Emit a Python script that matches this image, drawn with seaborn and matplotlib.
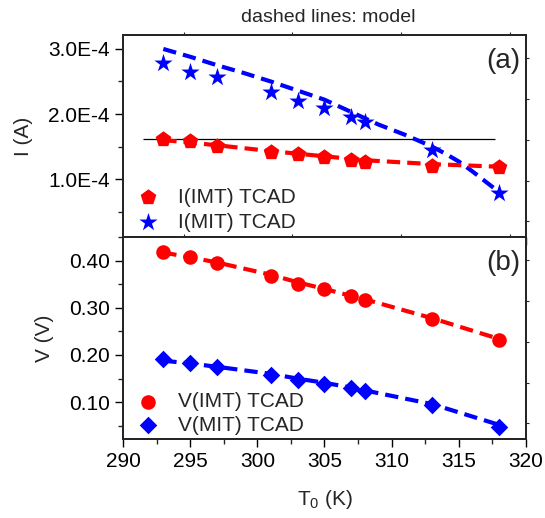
import numpy as np
import pandas as pd
import matplotlib
matplotlib.use("Agg")
import matplotlib.pyplot as plt
from matplotlib.ticker import FuncFormatter, MultipleLocator
import seaborn as sns

# ---- data -------------------------------------------------------------
T0 = [293, 295, 297, 301, 303, 305, 307, 308, 313, 318]            # K

# currents at the transitions (A), TCAD simulation
I_imt_tcad = [1.62e-4, 1.58e-4, 1.51e-4, 1.42e-4, 1.385e-4, 1.34e-4, 1.30e-4, 1.27e-4, 1.205e-4, 1.185e-4]
I_mit_tcad = [2.78e-4, 2.65e-4, 2.57e-4, 2.34e-4, 2.20e-4, 2.09e-4, 1.96e-4, 1.88e-4, 1.45e-4, 0.79e-4]

# voltages at the transitions (V), TCAD simulation
V_imt_tcad = [0.419, 0.407, 0.395, 0.368, 0.351, 0.339, 0.324, 0.316, 0.276, 0.232]
V_mit_tcad = [0.191, 0.182, 0.174, 0.158, 0.147, 0.139, 0.130, 0.124, 0.093, 0.048]

# compact-model curves
T_model_mit = [293, 295, 297, 299, 301, 303, 305, 307, 309, 311, 313, 314, 315, 316, 317, 318]
I_mit_model = [3.00e-4, 2.88e-4, 2.75e-4, 2.63e-4, 2.50e-4, 2.36e-4, 2.22e-4, 2.03e-4, 1.84e-4,
               1.68e-4, 1.50e-4, 1.39e-4, 1.27e-4, 1.12e-4, 0.96e-4, 0.80e-4]
I_imt_model = [1.60e-4, 1.56e-4, 1.52e-4, 1.43e-4, 1.39e-4, 1.35e-4, 1.31e-4, 1.29e-4, 1.23e-4, 1.19e-4]
V_imt_model = [0.417, 0.407, 0.396, 0.370, 0.354, 0.340, 0.325, 0.318, 0.278, 0.234]
V_mit_model = [0.188, 0.182, 0.175, 0.160, 0.150, 0.141, 0.131, 0.125, 0.096, 0.052]

# holding-current reference level
I_ref = 1.61e-4
I_ref_span = (291.5, 317.7)

RED = "#ff0000"
BLUE = "#0000ff"

sns.set_style("ticks")
plt.rcParams["font.family"] = ["Liberation Sans", "DejaVu Sans"]
plt.rcParams["mathtext.fontset"] = "custom"
plt.rcParams["mathtext.rm"] = "Liberation Sans"
plt.rcParams["mathtext.it"] = "Liberation Sans"

FS = 15

fig = plt.figure(figsize=(5.45, 5.18), dpi=100)
ax1 = fig.add_axes([0.2257, 0.5425, 0.7394, 0.390])
ax2 = fig.add_axes([0.2257, 0.1525, 0.7394, 0.390], sharex=ax1)

dash = dict(linewidth=3.0, dashes=(3.2, 1.7))

# ---- (a) currents -----------------------------------------------------
ax1.hlines(I_ref, *I_ref_span, color="black", linewidth=0.9, zorder=1)
sns.lineplot(x=T_model_mit, y=I_mit_model, ax=ax1, color=BLUE, zorder=2, **dash)
sns.lineplot(x=T0, y=I_imt_model, ax=ax1, color=RED, zorder=2, **dash)
sns.scatterplot(x=T0, y=I_imt_tcad, ax=ax1, color=RED, marker="p", s=140,
                linewidth=0, zorder=3, label="I(IMT) TCAD")
sns.scatterplot(x=T0, y=I_mit_tcad, ax=ax1, color=BLUE, marker="*", s=190,
                linewidth=0, zorder=3, label="I(MIT) TCAD")

ax1.set_ylim(1.1e-5, 3.215e-4)
ax1.yaxis.set_major_locator(MultipleLocator(1e-4))
ax1.yaxis.set_minor_locator(MultipleLocator(0.5e-4))


def sci_fmt(v, pos):
    if abs(v) < 1e-12:
        return "0"
    e = int(np.floor(np.log10(abs(v))))
    m = v / 10 ** e
    return f"{m:.1f}E{e}"


ax1.yaxis.set_major_formatter(FuncFormatter(sci_fmt))
ax1.set_ylabel("I (A)", fontsize=FS, labelpad=11)
ax1.tick_params(axis="x", which="both", bottom=False, labelbottom=False)
ax1.text(0.985, 0.935, "(a)", transform=ax1.transAxes, ha="right", va="top", fontsize=20)
ax1.legend(loc="lower left", bbox_to_anchor=(-0.02, -0.035), frameon=False, fontsize=FS,
           handletextpad=0.45, labelspacing=0.28, borderaxespad=0.2)

# ---- (b) voltages -----------------------------------------------------
sns.lineplot(x=T0, y=V_imt_model, ax=ax2, color=RED, zorder=2, **dash)
sns.lineplot(x=T0, y=V_mit_model, ax=ax2, color=BLUE, zorder=2, **dash)
sns.scatterplot(x=T0, y=V_imt_tcad, ax=ax2, color=RED, marker="o", s=110,
                linewidth=0, zorder=3, label="V(IMT) TCAD")
sns.scatterplot(x=T0, y=V_mit_tcad, ax=ax2, color=BLUE, marker="D", s=80,
                linewidth=0, zorder=3, label="V(MIT) TCAD")

ax2.set_ylim(0.022, 0.45)
ax2.yaxis.set_major_locator(MultipleLocator(0.1))
ax2.yaxis.set_minor_locator(MultipleLocator(0.05))
ax2.yaxis.set_major_formatter(FuncFormatter(lambda v, p: f"{v:.2f}"))
ax2.set_ylabel("V (V)", fontsize=FS, labelpad=11)
ax2.set_xlim(290, 320)
ax2.xaxis.set_major_locator(MultipleLocator(5))
ax2.xaxis.set_minor_locator(MultipleLocator(2.5))
ax2.set_xlabel("T$_0$ (K)", fontsize=FS, labelpad=12)
ax2.text(0.985, 0.935, "(b)", transform=ax2.transAxes, ha="right", va="top", fontsize=20)
ax2.legend(loc="lower left", bbox_to_anchor=(-0.02, -0.04), frameon=False, fontsize=FS,
           handletextpad=0.45, labelspacing=0.22, borderaxespad=0.2)

# ---- common axis styling -----------------------------------------------
right_ticks = [0.077, 0.279, 0.482, 0.685, 0.884]
top_ticks = [0.151, 0.419, 0.690, 0.960]
for ax in (ax1, ax2):
    for sp in ax.spines.values():
        sp.set_visible(True)
        sp.set_linewidth(1.1)
        sp.set_color("black")
    ax.tick_params(axis="both", which="major", direction="out", length=6, width=1.0,
                   labelsize=FS, colors="black")
    ax.tick_params(axis="both", which="minor", direction="out", length=3.5, width=1.0)
    # secondary right / top scales (ticks only)
    axr = ax.twinx()
    axr.set_ylim(0, 1)
    axr.set_yticks(right_ticks)
    axr.tick_params(axis="y", direction="out", length=2.5, width=0.8, labelright=False)
    axt = ax.twiny()
    axt.set_xlim(0, 1)
    axt.set_xticks(top_ticks)
    axt.tick_params(axis="x", direction="out", length=2.5, width=0.8, labeltop=False)
    for a in (axr, axt):
        for sp in a.spines.values():
            sp.set_linewidth(1.1)

fig.text(0.602, 0.967, "dashed lines: model", ha="center", va="center", fontsize=14)

fig.savefig("out.png", dpi=100)
